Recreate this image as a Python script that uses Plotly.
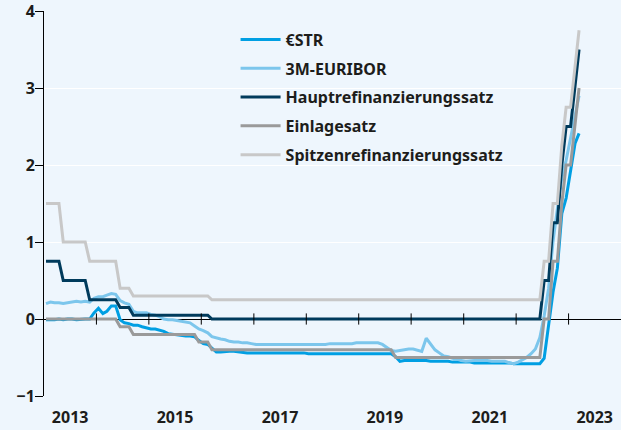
import plotly.graph_objects as go

# ---------------- data (monthly, 2013-01 .. 2023-03) ----------------
months = [f"{y}-{m:02d}-15" for y in range(2013, 2024) for m in range(1, 13)][:123]

estr = [
    -0.01, -0.01, -0.01, 0.00, -0.01, 0.00, 0.00, -0.01, 0.00, 0.00, 0.00, 0.08,      # 2013
    0.14, 0.07, 0.10, 0.17, 0.17, -0.01, -0.05, -0.06, -0.08, -0.08, -0.10, -0.11,    # 2014
    -0.13, -0.13, -0.14, -0.16, -0.19, -0.20, -0.20, -0.21, -0.22, -0.22, -0.23, -0.28,  # 2015
    -0.32, -0.33, -0.38, -0.43, -0.43, -0.42, -0.42, -0.42, -0.43, -0.43, -0.44, -0.44,  # 2016
    -0.44, -0.44, -0.44, -0.44, -0.44, -0.44, -0.44, -0.44, -0.44, -0.44, -0.44, -0.44,  # 2017
    -0.45, -0.45, -0.45, -0.45, -0.45, -0.45, -0.45, -0.45, -0.45, -0.45, -0.45, -0.45,  # 2018
    -0.45, -0.45, -0.45, -0.45, -0.45, -0.45, -0.45, -0.45, -0.49, -0.55, -0.54, -0.54,  # 2019
    -0.54, -0.54, -0.54, -0.54, -0.55, -0.55, -0.55, -0.55, -0.55, -0.56, -0.56, -0.56,  # 2020
    -0.56, -0.56, -0.57, -0.57, -0.57, -0.57, -0.57, -0.57, -0.57, -0.57, -0.57, -0.58,  # 2021
    -0.58, -0.58, -0.58, -0.58, -0.58, -0.58, -0.51, -0.09, 0.35, 0.66, 1.37, 1.57,      # 2022
    1.90, 2.28, 2.41,                                                                     # 2023
]

euribor = [
    0.20, 0.22, 0.21, 0.21, 0.20, 0.21, 0.22, 0.23, 0.22, 0.23, 0.22, 0.27,            # 2013
    0.29, 0.29, 0.31, 0.33, 0.32, 0.24, 0.21, 0.19, 0.10, 0.08, 0.08, 0.08,            # 2014
    0.06, 0.05, 0.03, 0.00, -0.01, -0.01, -0.02, -0.03, -0.04, -0.05, -0.09, -0.13,    # 2015
    -0.15, -0.18, -0.23, -0.25, -0.26, -0.27, -0.29, -0.30, -0.30, -0.31, -0.31, -0.32,  # 2016
    -0.33, -0.33, -0.33, -0.33, -0.33, -0.33, -0.33, -0.33, -0.33, -0.33, -0.33, -0.33,  # 2017
    -0.33, -0.33, -0.33, -0.33, -0.33, -0.32, -0.32, -0.32, -0.32, -0.32, -0.32, -0.31,  # 2018
    -0.31, -0.31, -0.31, -0.31, -0.31, -0.33, -0.37, -0.41, -0.42, -0.41, -0.40, -0.39,  # 2019
    -0.39, -0.41, -0.42, -0.25, -0.33, -0.40, -0.44, -0.48, -0.49, -0.51, -0.52, -0.54,  # 2020
    -0.55, -0.54, -0.54, -0.54, -0.54, -0.54, -0.55, -0.55, -0.55, -0.55, -0.57, -0.58,  # 2021
    -0.56, -0.53, -0.50, -0.45, -0.39, -0.24, 0.04, 0.40, 1.01, 1.43, 1.83, 2.06,      # 2022
    2.35, 2.64, 2.90,                                                                   # 2023
]

hauptrefi = [
    0.75, 0.75, 0.75, 0.75, 0.50, 0.50, 0.50, 0.50, 0.50, 0.50, 0.25, 0.25,   # 2013
    0.25, 0.25, 0.25, 0.25, 0.25, 0.15, 0.15, 0.15, 0.05, 0.05, 0.05, 0.05,   # 2014
    0.05, 0.05, 0.05, 0.05, 0.05, 0.05, 0.05, 0.05, 0.05, 0.05, 0.05, 0.05,   # 2015
    0.05, 0.05, 0.00, 0.00, 0.00, 0.00, 0.00, 0.00, 0.00, 0.00, 0.00, 0.00,   # 2016
    0.00, 0.00, 0.00, 0.00, 0.00, 0.00, 0.00, 0.00, 0.00, 0.00, 0.00, 0.00,   # 2017
    0.00, 0.00, 0.00, 0.00, 0.00, 0.00, 0.00, 0.00, 0.00, 0.00, 0.00, 0.00,   # 2018
    0.00, 0.00, 0.00, 0.00, 0.00, 0.00, 0.00, 0.00, 0.00, 0.00, 0.00, 0.00,   # 2019
    0.00, 0.00, 0.00, 0.00, 0.00, 0.00, 0.00, 0.00, 0.00, 0.00, 0.00, 0.00,   # 2020
    0.00, 0.00, 0.00, 0.00, 0.00, 0.00, 0.00, 0.00, 0.00, 0.00, 0.00, 0.00,   # 2021
    0.00, 0.00, 0.00, 0.00, 0.00, 0.00, 0.50, 0.50, 1.25, 1.25, 2.00, 2.50,   # 2022
    2.50, 3.00, 3.50,                                                          # 2023
]

einlage = [
    0.00, 0.00, 0.00, 0.00, 0.00, 0.00, 0.00, 0.00, 0.00, 0.00, 0.00, 0.00,          # 2013
    0.00, 0.00, 0.00, 0.00, 0.00, -0.10, -0.10, -0.10, -0.20, -0.20, -0.20, -0.20,  # 2014
    -0.20, -0.20, -0.20, -0.20, -0.20, -0.20, -0.20, -0.20, -0.20, -0.20, -0.20, -0.30,  # 2015
    -0.30, -0.30, -0.40, -0.40, -0.40, -0.40, -0.40, -0.40, -0.40, -0.40, -0.40, -0.40,  # 2016
    -0.40, -0.40, -0.40, -0.40, -0.40, -0.40, -0.40, -0.40, -0.40, -0.40, -0.40, -0.40,  # 2017
    -0.40, -0.40, -0.40, -0.40, -0.40, -0.40, -0.40, -0.40, -0.40, -0.40, -0.40, -0.40,  # 2018
    -0.40, -0.40, -0.40, -0.40, -0.40, -0.40, -0.40, -0.40, -0.50, -0.50, -0.50, -0.50,  # 2019
    -0.50, -0.50, -0.50, -0.50, -0.50, -0.50, -0.50, -0.50, -0.50, -0.50, -0.50, -0.50,  # 2020
    -0.50, -0.50, -0.50, -0.50, -0.50, -0.50, -0.50, -0.50, -0.50, -0.50, -0.50, -0.50,  # 2021
    -0.50, -0.50, -0.50, -0.50, -0.50, -0.50, 0.00, 0.00, 0.75, 0.75, 1.50, 2.00,        # 2022
    2.00, 2.50, 3.00,                                                                    # 2023
]

spitzen = [
    1.50, 1.50, 1.50, 1.50, 1.00, 1.00, 1.00, 1.00, 1.00, 1.00, 0.75, 0.75,   # 2013
    0.75, 0.75, 0.75, 0.75, 0.75, 0.40, 0.40, 0.40, 0.30, 0.30, 0.30, 0.30,   # 2014
    0.30, 0.30, 0.30, 0.30, 0.30, 0.30, 0.30, 0.30, 0.30, 0.30, 0.30, 0.30,   # 2015
    0.30, 0.30, 0.25, 0.25, 0.25, 0.25, 0.25, 0.25, 0.25, 0.25, 0.25, 0.25,   # 2016
    0.25, 0.25, 0.25, 0.25, 0.25, 0.25, 0.25, 0.25, 0.25, 0.25, 0.25, 0.25,   # 2017
    0.25, 0.25, 0.25, 0.25, 0.25, 0.25, 0.25, 0.25, 0.25, 0.25, 0.25, 0.25,   # 2018
    0.25, 0.25, 0.25, 0.25, 0.25, 0.25, 0.25, 0.25, 0.25, 0.25, 0.25, 0.25,   # 2019
    0.25, 0.25, 0.25, 0.25, 0.25, 0.25, 0.25, 0.25, 0.25, 0.25, 0.25, 0.25,   # 2020
    0.25, 0.25, 0.25, 0.25, 0.25, 0.25, 0.25, 0.25, 0.25, 0.25, 0.25, 0.25,   # 2021
    0.25, 0.25, 0.25, 0.25, 0.25, 0.25, 0.75, 0.75, 1.50, 1.50, 2.25, 2.75,   # 2022
    2.75, 3.25, 3.75,                                                          # 2023
]

series_names = ["€STR", "3M-EURIBOR", "Hauptrefinanzierungssatz", "Einlagesatz",
                "Spitzenrefinanzierungssatz"]
series_values = [estr, euribor, hauptrefi, einlage, spitzen]
series_colors = ["#009fe3", "#7cc6ec", "#003b5c", "#9a9a9a", "#c8c8c8"]

label_years = [2013, 2015, 2017, 2019, 2021, 2023]
tick_years = list(range(2014, 2024))
y_ticks = [-1, 0, 1, 2, 3, 4]

BG = "#eef6fd"
TXT = "#1d1d1b"
FONT = "Noto Sans"
FS = 16

fig = go.Figure()
for i, (name, vals, col) in enumerate(zip(series_names, series_values, series_colors)):
    fig.add_trace(go.Scatter(
        x=months, y=vals, mode="lines", name=name,
        line=dict(color=col, width=3), legendgroup=f"g{i}",
    ))

# small tick marks on the zero line at each year boundary
fig.add_trace(go.Scatter(
    x=[f"{y}-01-01" for y in tick_years], y=[0] * len(tick_years),
    mode="markers", showlegend=False, hoverinfo="skip",
    marker=dict(symbol="line-ns", size=8, line=dict(color="black", width=1)),
))

fig.update_layout(
    width=621, height=430,
    margin=dict(l=44, r=0, t=11, b=34),
    paper_bgcolor=BG, plot_bgcolor=BG,
    font=dict(family=FONT, size=FS, color=TXT, weight="bold"),
    showlegend=True,
    legend=dict(
        x=0.332, y=0.97, xanchor="left", yanchor="top",
        bgcolor="rgba(0,0,0,0)", tracegroupgap=5, itemwidth=40,
        font=dict(family=FONT, size=FS, color=TXT, weight="bold"),
    ),
    xaxis=dict(
        type="date", range=["2013-01-01", "2024-01-01"], automargin=False,
        showgrid=False, zeroline=False, showline=False, ticks="",
        tickvals=[f"{y}-07-02" for y in label_years],
        ticktext=[str(y) for y in label_years],
        ticklabelstandoff=10, ticklabeloverflow="allow",
        tickfont=dict(family=FONT, size=FS, color=TXT, weight="bold"),
    ),
    yaxis=dict(
        range=[-1, 4], tickvals=y_ticks, automargin=False,
        showline=True, linecolor="black", linewidth=1,
        ticks="outside", ticklen=8, tickcolor="black", tickwidth=1,
        ticklabeloverflow="allow", ticklabelstandoff=-3,
        showgrid=True, gridcolor="white", gridwidth=1,
        zeroline=True, zerolinecolor="black", zerolinewidth=1,
        tickfont=dict(family=FONT, size=FS, color=TXT, weight="bold"),
    ),
)

fig.write_html("out.html", config={"displayModeBar": False},
               post_script="document.body.style.margin='0';")
